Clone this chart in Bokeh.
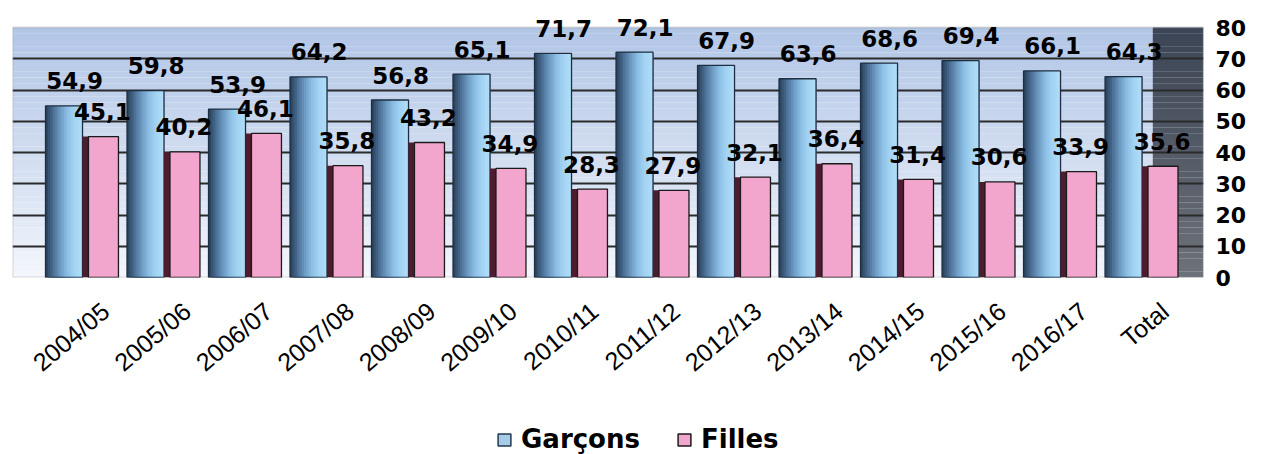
import numpy as np
from bokeh.plotting import figure
from bokeh.layouts import column
from bokeh.models import Range1d, FixedTicker, BoxAnnotation, Legend, LegendItem, ColumnDataSource
from bokeh.core.properties import value
from bokeh.embed import file_html
from bokeh.resources import INLINE

categories = ["2004/05", "2005/06", "2006/07", "2007/08", "2008/09", "2009/10", "2010/11",
              "2011/12", "2012/13", "2013/14", "2014/15", "2015/16", "2016/17", "Total"]
garcons = [54.9, 59.8, 53.9, 64.2, 56.8, 65.1, 71.7, 72.1, 67.9, 63.6, 68.6, 69.4, 66.1, 64.3]
filles = [45.1, 40.2, 46.1, 35.8, 43.2, 34.9, 28.3, 27.9, 32.1, 36.4, 31.4, 30.6, 33.9, 35.6]
y_ticks = [0, 10, 20, 30, 40, 50, 60, 70, 80]
series_names = ["Garçons", "Filles"]

n = len(categories)
idx = np.arange(n)
YMAX = y_ticks[-1]

def fmt(v):
    return f"{v:.1f}".replace(".", ",")

# layout offsets (in category units)
BLUE_OFF, BLUE_W = -0.509, 0.454
SIDE_OFF, SIDE_W = -0.245, 0.074
PINK_OFF, PINK_W = -0.025, 0.368
BLUE_LBL, PINK_LBL = -0.380, -0.037

src = ColumnDataSource(dict(
    xb=idx + BLUE_OFF, xs=idx + SIDE_OFF, xp=idx + PINK_OFF,
    xbl=idx + BLUE_LBL, xpl=idx + PINK_LBL,
    g=garcons, f=filles,
    gl=[fmt(v) for v in garcons], fl=[fmt(v) for v in filles],
))

p = figure(width=1270, height=400, x_range=Range1d(-1.141, 13.472), y_range=Range1d(0, 86.08),
           output_backend="svg", toolbar_location=None, y_axis_location="right",
           min_border_left=12, min_border_right=67, min_border_top=8, min_border_bottom=123)
p.background_fill_color = "white"
p.border_fill_color = "white"
p.outline_line_color = None

def lerp(c1, c2, t):
    a = np.array([int(c1[i:i + 2], 16) for i in (1, 3, 5)])
    b = np.array([int(c2[i:i + 2], 16) for i in (1, 3, 5)])
    c = (a + (b - a) * t).round().astype(int)
    return "#%02x%02x%02x" % tuple(c)

# gradient background of the wall
nb = 40
edges = np.linspace(0, YMAX, nb + 1)
for k in range(nb):
    t = k / (nb - 1)
    col = lerp("#f3f6fc", "#b2c6e6", t ** 0.9)
    p.add_layout(BoxAnnotation(bottom=edges[k], top=edges[k + 1], fill_color=col, fill_alpha=1,
                               line_color=None, level="image"))
for k in range(nb):
    t = k / (nb - 1)
    col = lerp("#6d7179", "#3c4555", t)
    p.add_layout(BoxAnnotation(left=12.85, bottom=edges[k], top=edges[k + 1], fill_color=col,
                               fill_alpha=1, line_color=None, level="image"))
# wall border
p.add_layout(BoxAnnotation(bottom=0, top=YMAX, fill_color=None, fill_alpha=0,
                           line_color="#8c8c8c", line_width=2, level="underlay"))

# axes & grid
p.ygrid.ticker = FixedTicker(ticks=y_ticks[1:-1])
p.ygrid.grid_line_color = "#2a2a2a"
p.ygrid.grid_line_width = 2
p.xgrid.grid_line_color = None

p.yaxis.ticker = FixedTicker(ticks=y_ticks)
p.yaxis.axis_line_color = None
p.yaxis.major_tick_line_color = None
p.yaxis.minor_tick_line_color = None
p.yaxis.major_label_text_font = "DejaVu Sans"
p.yaxis.major_label_text_font_style = "bold"
p.yaxis.major_label_text_font_size = "22px"
p.yaxis.major_label_text_color = "black"
p.yaxis.major_label_standoff = 6

p.xaxis.ticker = FixedTicker(ticks=list(range(n)))
p.xaxis.major_label_overrides = {i: c for i, c in enumerate(categories)}
p.xaxis.axis_line_color = None
p.xaxis.major_tick_line_color = None
p.xaxis.minor_tick_line_color = None
p.xaxis.major_label_orientation = 0.70
p.xaxis.major_label_text_font = "Liberation Sans"
p.xaxis.major_label_text_font_size = "25px"
p.xaxis.major_label_text_color = "black"
p.xaxis.major_label_standoff = 24

# blue cylinder bars (shaded from dark left to light right)
stops = ["#2c4560", "#4d7197", "#6e9bc3", "#8dbfe5", "#a3d3f2", "#b0dcf7"]
ns = 16
sw = BLUE_W / ns
left_edge = idx + BLUE_OFF - BLUE_W / 2
right_edge = idx + BLUE_OFF + BLUE_W / 2
for k in range(ns):
    t = k / (ns - 1) * (len(stops) - 1)
    i0 = min(int(t), len(stops) - 2)
    col = lerp(stops[i0], stops[i0 + 1], t - i0)
    lft = left_edge + sw * k
    p.vbar(x=(lft + right_edge) / 2, top=garcons, bottom=0, width=(right_edge - lft)[0],
           fill_color=col, line_color=None)
p.vbar(x="xb", top="g", bottom=0, width=BLUE_W, source=src,
       fill_color=None, line_color="#1d2e42", line_width=1.3)

# pink bars with dark side
p.vbar(x="xs", top="f", bottom=0, width=SIDE_W, source=src, fill_color="#4d1c2e", line_color=None)
p.vbar(x="xp", top="f", bottom=0, width=PINK_W, source=src,
       fill_color="#f3a6cd", line_color="#1a1a1a", line_width=1.3)

# value labels
for xcol, ycol, tcol in (("xbl", "g", "gl"), ("xpl", "f", "fl")):
    p.text(x=xcol, y=ycol, text=tcol, source=src, text_font=value("DejaVu Sans"),
           text_font_style="bold", text_font_size="23px", text_align="center",
           text_baseline="alphabetic", text_color="black", y_offset=-25)

# legend strip
lg = figure(width=1270, height=54, output_backend="svg", toolbar_location=None,
            x_axis_location=None, y_axis_location=None,
            x_range=Range1d(0, 1), y_range=Range1d(0, 1),
            min_border_left=0, min_border_right=0, min_border_top=0, min_border_bottom=0)
lg.grid.visible = False
lg.outline_line_color = None
r_g = lg.vbar(x="xb", top="g", width=BLUE_W, source=src, visible=False,
              fill_color="#a6cce9", line_color="#22384f", line_width=1.5)
r_f = lg.vbar(x="xp", top="f", width=PINK_W, source=src, visible=False,
              fill_color="#f3a6cd", line_color="#1a1a1a", line_width=1.5)
legend = Legend(items=[LegendItem(label=series_names[0], renderers=[r_g]),
                       LegendItem(label=series_names[1], renderers=[r_f])],
                orientation="horizontal", location=(484, 0),
                label_text_font="DejaVu Sans", label_text_font_style="bold",
                label_text_font_size="26px", glyph_width=16, glyph_height=15,
                label_standoff=9, spacing=36, border_line_color=None,
                background_fill_alpha=0, padding=0, margin=0, label_text_color="black",
                inactive_fill_alpha=0)
lg.add_layout(legend)

layout = column(p, lg, spacing=0)
open("out.html", "w").write(file_html(layout, INLINE))
